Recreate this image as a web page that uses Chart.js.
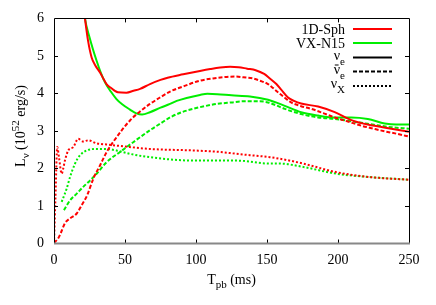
<!DOCTYPE html>
<html><head><meta charset="utf-8">
<script src="https://cdn.jsdelivr.net/npm/chart.js@4/dist/chart.umd.min.js"></script>
<style>html,body{margin:0;padding:0;background:#fff;}canvas{display:block;}</style>
</head><body>
<canvas id="c" width="436" height="305"></canvas>
<script>
// ---- data (time in ms, luminosity in 1e52 erg/s) ----
const sphNueT = [18,21.8,24,26.5,29,32.4,35,37,40,45,51,56,60.6,67.6,75,80,91,102.8,110,117,124,130,136,142,148,152,156.6,160,164.8,169,174,186,197.7,209.4,221,237.5,250];
const sphNueL = [7.2,6.0,5.4,4.96,4.75,4.56,4.38,4.25,4.15,4.03,4.02,4.07,4.12,4.25,4.36,4.42,4.51,4.6,4.65,4.69,4.71,4.70,4.66,4.62,4.52,4.40,4.25,4.1,3.89,3.8,3.73,3.65,3.5,3.29,3.17,3.06,2.98];
const sphAnueT = [0,3,5,7.7,11.3,16,19.5,23.4,27.7,32.4,37.1,44,53.5,60,67.6,75,81.7,92,102.8,112,121.6,128,133.3,140,145,150.7,157.7,162,167,174,181,190,197.7,207,216.4,225,232.9,242,250];
const sphAnueL = [0.02,0.14,0.3,0.54,0.67,0.8,1.02,1.29,1.73,2.08,2.44,2.83,3.28,3.5,3.72,3.9,4.05,4.2,4.34,4.4,4.44,4.45,4.43,4.4,4.34,4.25,4.03,3.9,3.76,3.66,3.59,3.47,3.36,3.25,3.14,3.06,2.99,2.92,2.85];
const sphNuxT = [0,1,2.3,3.5,5.4,6.5,7.7,10,13.6,17,20.6,24.2,30,37,48.8,67.6,98,117,128.6,152,159,175.6,199,222.5,250];
const sphNuxL = [0.0,1.2,2.57,2.3,1.86,2.0,2.21,2.48,2.57,2.79,2.72,2.75,2.67,2.64,2.59,2.52,2.48,2.44,2.39,2.3,2.26,2.13,1.9,1.77,1.70];

const vxNueT = [18,21.8,25,30,33,36,40,44,48,53.5,58,62,67.6,75,81.7,86.4,93.4,102.8,108,115,125,138,150.7,162.5,174,186,197.7,209.4,221,232.9,241,250];
const vxNueL = [7.3,6.0,5.5,4.87,4.55,4.29,4.05,3.85,3.71,3.57,3.47,3.44,3.5,3.62,3.72,3.8,3.88,3.96,3.99,3.98,3.95,3.92,3.83,3.67,3.5,3.41,3.36,3.36,3.32,3.2,3.17,3.17];
const vxAnueT = [7,11.3,16,20.6,25.4,30,37.1,46.5,55.8,67.6,75,81.7,90,98,106,114.6,125,133.3,145,150.7,156,162.5,174,186,197.7,209,221,237.5,250];
const vxAnueL = [0.89,1.15,1.33,1.51,1.68,1.86,2.17,2.44,2.7,3.02,3.2,3.36,3.5,3.59,3.66,3.72,3.76,3.79,3.79,3.76,3.69,3.59,3.45,3.36,3.32,3.26,3.19,3.1,3.06];
const vxNuxT = [5.4,8.9,11.3,14.8,18.3,23,30,37,44,53.5,67.6,98,128.6,152,159,175.6,199,222.5,250];
const vxNuxL = [1.11,1.46,1.77,2.13,2.35,2.48,2.52,2.52,2.48,2.39,2.3,2.21,2.21,2.13,2.13,2.04,1.86,1.77,1.70];

const xTicks = [0,50,100,150,200,250];
const yTicks = [0,1,2,3,4,5,6];
const modelNames = ['1D-Sph','VX-N15'];

const RED = '#ff0000', GREEN = '#00ee00';
const DASH = [4,2], DOT = [2,2];
const SERIF = '"Liberation Serif","Times New Roman",serif';

function pts(t, l){ return t.map((v,i)=>({x:v,y:l[i]})); }
function ds(t,l,color,dash){
  return {data:pts(t,l), borderColor:color, borderWidth:2, borderDash:dash, pointRadius:0, cubicInterpolationMode:'monotone', fill:false};
}

const decor = {
  id:'decor',
  afterDraw(chart){
    const ctx = chart.ctx, a = chart.chartArea, xs = chart.scales.x, ys = chart.scales.y;
    ctx.save();
    ctx.strokeStyle = '#000'; ctx.lineWidth = 1;
    ctx.beginPath();
    xTicks.forEach(v=>{ const px = Math.round(xs.getPixelForValue(v))+0.5;
      if (v>0 && v<250){ ctx.moveTo(px,a.bottom); ctx.lineTo(px,a.bottom-4); ctx.moveTo(px,a.top); ctx.lineTo(px,a.top+4);} });
    yTicks.forEach(v=>{ const py = Math.round(ys.getPixelForValue(v))+0.5;
      if (v>0 && v<6){ ctx.moveTo(a.left,py); ctx.lineTo(a.left+4,py); ctx.moveTo(a.right,py); ctx.lineTo(a.right-4,py);} });
    ctx.stroke();
    ctx.strokeStyle='#000'; ctx.lineWidth=1;
    ctx.beginPath();
    ctx.moveTo(Math.round(a.left)+0.5, Math.round(a.bottom));
    ctx.lineTo(Math.round(a.left)+0.5, Math.round(a.top)+0.5);
    ctx.lineTo(Math.round(a.right)+0.5, Math.round(a.top)+0.5);
    ctx.lineTo(Math.round(a.right)+0.5, Math.round(a.bottom));
    ctx.stroke();
    ctx.strokeStyle='#888'; ctx.lineWidth=2;
    ctx.beginPath();
    ctx.moveTo(a.left, a.bottom); ctx.lineTo(a.right+1, a.bottom);
    ctx.stroke();

    // legend
    ctx.textBaseline = 'alphabetic';
    const rowY = [29,43,57.5,71.5,86];
    const tr = 345, l0 = 353, l1 = 392;
    const big = '14px '+SERIF, small = '11px '+SERIF;
    function sample(y,color,dash){
      ctx.save(); ctx.strokeStyle=color; ctx.lineWidth=2; ctx.setLineDash(dash);
      ctx.beginPath(); ctx.moveTo(l0,y); ctx.lineTo(l1,y); ctx.stroke(); ctx.restore();
    }
    ctx.fillStyle='#000'; ctx.textAlign='right';
    ctx.font = big;
    ctx.fillText(modelNames[0], tr, rowY[0]+4.5); sample(rowY[0], RED, []);
    ctx.fillText(modelNames[1], tr, rowY[1]+4.5); sample(rowY[1], GREEN, []);
    const nuRows = [['ν','e',[],false],['ν','e',DASH,true],['ν','X',DOT,false]];
    nuRows.forEach((r,i)=>{
      const y = rowY[2+i];
      ctx.font = small; ctx.textAlign='right';
      const sw = ctx.measureText(r[1]).width;
      ctx.fillText(r[1], tr, y+7);
      ctx.font = big;
      const nx = tr - sw;
      ctx.fillText(r[0], nx, y+2);
      if (r[3]) { const w = ctx.measureText(r[0]).width;
        ctx.save(); ctx.strokeStyle='#000'; ctx.lineWidth=1;
        ctx.beginPath(); ctx.moveTo(nx-w+1, y-6.5); ctx.lineTo(nx-1.5, y-6.5); ctx.stroke(); ctx.restore(); }
      sample(y,'#000',r[2]);
    });

    const xParts = [['T',big,0],['pb',small,4],[' (ms)',big,0]];
    drawParts(ctx, xParts, (a.left+a.right)/2, 284);
    ctx.save();
    ctx.translate(24.5, 126);
    ctx.rotate(-Math.PI/2);
    const yParts = [['L',big,0],['ν',small,4],[' (10',big,0],['52',small,-6],[' erg/s)',big,0]];
    drawParts(ctx, yParts, 0, 0);
    ctx.restore();
    ctx.restore();
  }
};
function drawParts(ctx, parts, cx, by){
  let tot = 0;
  parts.forEach(p=>{ ctx.font=p[1]; tot += ctx.measureText(p[0]).width; });
  let x = cx - tot/2;
  ctx.textAlign='left';
  parts.forEach(p=>{ ctx.font=p[1]; ctx.fillText(p[0], x, by+p[2]); x += ctx.measureText(p[0]).width; });
}

new Chart(document.getElementById('c'), {
  type:'line',
  data:{ datasets:[
    ds(sphNueT,sphNueL,RED,[]),
    ds(sphAnueT,sphAnueL,RED,DASH),
    ds(sphNuxT,sphNuxL,RED,DOT),
    ds(vxNueT,vxNueL,GREEN,[]),
    ds(vxAnueT,vxAnueL,GREEN,DASH),
    ds(vxNuxT,vxNuxL,GREEN,DOT)
  ]},
  options:{
    responsive:false, animation:false, devicePixelRatio:1,
    layout:{padding:{top:17,right:27,left:0,bottom:0}},
    plugins:{legend:{display:false}, tooltip:{enabled:false}},
    scales:{
      x:{type:'linear', min:0, max:250,
        afterBuildTicks(s){ s.ticks = xTicks.map(v=>({value:v})); },
        afterFit(s){ s.height = 61.5; },
        grid:{display:false, drawTicks:false}, border:{display:false},
        ticks:{color:'#000', font:{family:SERIF,size:14}, padding:8, maxRotation:0}},
      y:{type:'linear', min:0, max:6,
        afterBuildTicks(s){ s.ticks = yTicks.map(v=>({value:v})); },
        afterFit(s){ s.width = 54; },
        grid:{display:false, drawTicks:false}, border:{display:false},
        ticks:{color:'#000', font:{family:SERIF,size:14}, padding:10}}
    }
  },
  plugins:[decor]
});
</script>
</body></html>
